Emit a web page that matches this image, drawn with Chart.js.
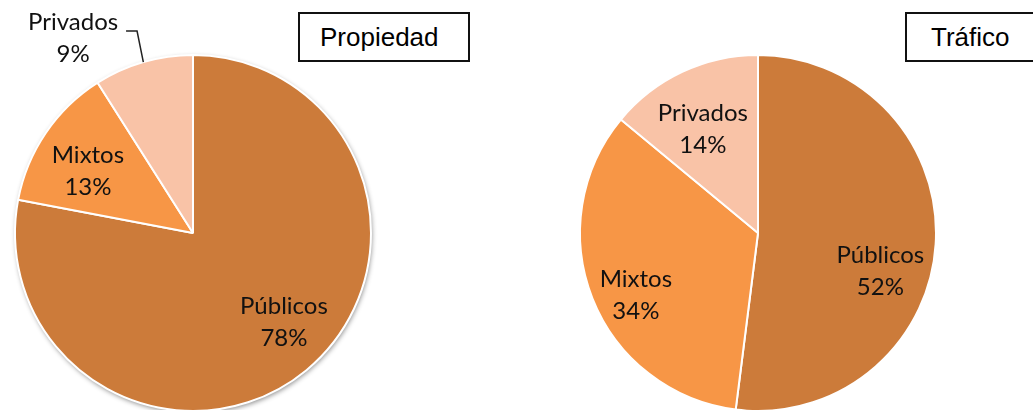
<!DOCTYPE html>
<html>
<head>
<meta charset="utf-8">
<script src="https://cdn.jsdelivr.net/npm/chart.js@4"></script>
<style>
  html, body { margin: 0; padding: 0; background: #fff; }
  body { width: 1033px; height: 410px; position: relative; overflow: hidden; }
  .pie { position: absolute; top: 0; }
  .box {
    position: absolute; top: 12px; height: 46px; box-sizing: content-box;
    border: 2px solid #111; background: #fff;
    font: 26px "Liberation Sans", Arial, sans-serif; line-height: 46px; color: #000;
    z-index: 2;
  }
</style>
</head>
<body>
<canvas id="propiedad" class="pie" width="386" height="466" style="left:0"></canvas>
<canvas id="trafico" class="pie" width="386" height="466" style="left:565px"></canvas>
<div class="box" style="left:298px; width:148px; padding-left:20px;">Propiedad</div>
<div class="box" style="left:905px; width:140px; padding-left:24px;">Tráfico</div>
<script>
// data
const propiedadLabels = ['Públicos', 'Mixtos', 'Privados'];
const propiedadValues = [78, 13, 9];
const traficoLabels = ['Públicos', 'Mixtos', 'Privados'];
const traficoValues = [52, 34, 14];
const sliceColors = ['#CC7B3A', '#F79646', '#F9C3A7'];

// label placement: [angle clockwise from top in degrees, fraction of radius]
const propiedadLabelPos = [[134.4, 0.715], [300.5, 0.685], [328.4, 1.286]];
const traficoLabelPos = [[107.3, 0.72], [243, 0.77], [332, 0.66]];

const sliceLabels = {
  id: 'sliceLabels',
  beforeDatasetsDraw(chart, args, opts) {
    if (!opts.shadow) return;
    const arc = chart.getDatasetMeta(0).data[0];
    const { x, y, outerRadius } = arc.getProps(['x', 'y', 'outerRadius'], true);
    const ctx = chart.ctx;
    ctx.save();
    ctx.shadowColor = 'rgba(0,0,0,0.45)';
    ctx.shadowBlur = 5;
    ctx.shadowOffsetX = 1;
    ctx.shadowOffsetY = 2;
    ctx.fillStyle = '#fff';
    ctx.beginPath();
    ctx.arc(x, y, outerRadius, 0, Math.PI * 2);
    ctx.fill();
    ctx.restore();
  },
  afterDatasetsDraw(chart, args, opts) {
    const ctx = chart.ctx;
    const arcs = chart.getDatasetMeta(0).data;
    const values = chart.data.datasets[0].data;
    ctx.save();
    ctx.font = '24px Lato';
    ctx.fillStyle = '#111';
    ctx.textAlign = 'center';
    ctx.textBaseline = 'middle';
    arcs.forEach((arc, i) => {
      const { x, y, outerRadius, startAngle, endAngle } =
        arc.getProps(['x', 'y', 'outerRadius', 'startAngle', 'endAngle'], true);
      const [deg, frac] = opts.positions[i];
      const a = deg * Math.PI / 180;
      const cx = x + Math.sin(a) * frac * outerRadius;
      const cy = y - Math.cos(a) * frac * outerRadius;
      ctx.fillText(chart.data.labels[i], cx, cy - 16);
      ctx.fillText(values[i] + '%', cx, cy + 16);
      if (frac > 1) {
        // leader line from the slice edge to the label
        const mid = (startAngle + endAngle) / 2;
        ctx.strokeStyle = '#222';
        ctx.lineWidth = 1.5;
        ctx.beginPath();
        ctx.moveTo(x + Math.cos(mid) * outerRadius, y + Math.sin(mid) * outerRadius);
        ctx.lineTo(cx + 64, cy - 7);
        ctx.lineTo(cx + 53, cy - 7);
        ctx.stroke();
      }
    });
    ctx.restore();
  }
};

function makePie(id, labels, values, positions, shadow) {
  return new Chart(document.getElementById(id), {
    type: 'pie',
    data: {
      labels: labels,
      datasets: [{
        data: values,
        backgroundColor: sliceColors,
        borderColor: '#fff',
        borderWidth: 2
      }]
    },
    options: {
      responsive: false,
      animation: false,
      radius: 178,
      layout: { padding: 0 },
      plugins: {
        legend: { display: false },
        tooltip: { enabled: false },
        sliceLabels: { positions: positions, shadow: shadow }
      }
    },
    plugins: [sliceLabels]
  });
}

makePie('propiedad', propiedadLabels, propiedadValues, propiedadLabelPos, true);
makePie('trafico', traficoLabels, traficoValues, traficoLabelPos, false);
</script>
</body>
</html>
